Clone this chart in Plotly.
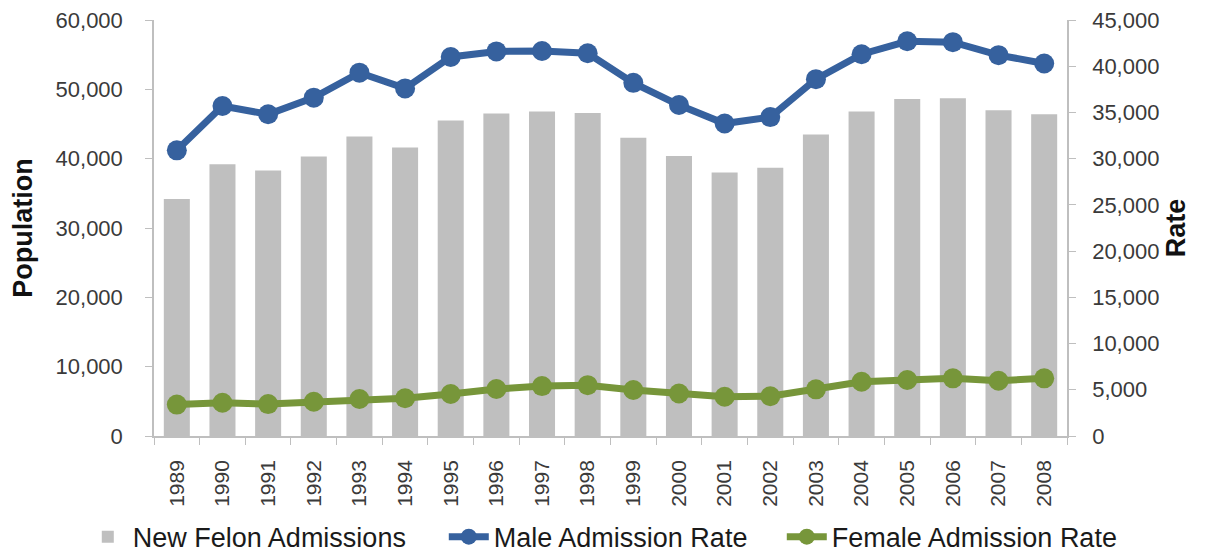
import plotly.graph_objects as go

years = [str(y) for y in range(1989, 2009)]
new_felon_admissions = [34200, 39200, 38300, 40300, 43200, 41600, 45500, 46500, 46800, 46600,
                        43000, 40400, 38000, 38700, 43500, 46800, 48600, 48700, 47000, 46400]
male_rate = [30900, 35700, 34800, 36600, 39300, 37600, 41000, 41600, 41650, 41400,
             38200, 35800, 33800, 34500, 38600, 41300, 42700, 42600, 41200, 40300]
female_rate = [3400, 3600, 3450, 3700, 4000, 4080, 4540, 5080, 5400, 5500,
               4980, 4600, 4250, 4300, 5050, 5870, 6060, 6240, 5980, 6240]

FONT = "Liberation Sans, Arial, sans-serif"
BLUE = "#36619E"
GREEN = "#77963A"
GRAY = "#BFBFBF"
AXIS = "#BFBFBF"
TXT = "#3A3A3A"

fig = go.Figure()
fig.add_trace(go.Bar(x=years, y=new_felon_admissions, name="New Felon Admissions",
                     marker=dict(color=GRAY, line=dict(width=0)), yaxis="y",
                     legendwidth=306))
fig.add_trace(go.Scatter(x=years, y=male_rate, name="Male Admission Rate", mode="lines+markers",
                         line=dict(color=BLUE, width=7), marker=dict(color=BLUE, size=20),
                         yaxis="y2", legendwidth=283))
fig.add_trace(go.Scatter(x=years, y=female_rate, name="Female Admission Rate", mode="lines+markers",
                         line=dict(color=GREEN, width=7), marker=dict(color=GREEN, size=20),
                         yaxis="y2"))

fig.update_layout(
    width=1197, height=546,
    margin=dict(l=146, r=138, t=12, b=118, autoexpand=False),
    paper_bgcolor="white", plot_bgcolor="white",
    font=dict(family=FONT, color=TXT),
    bargap=0.43,
    showlegend=True,
    legend=dict(orientation="h", x=-0.078, xanchor="left", xref="paper",
                y=-0.243, yanchor="middle", yref="paper",
                font=dict(size=27, color="#1a1a1a"), itemwidth=40,
                tracegroupgap=0, bgcolor="rgba(0,0,0,0)"),
    xaxis=dict(type="category", tickangle=-90, tickfont=dict(size=21, color=TXT),
               showline=True, linecolor=AXIS, linewidth=1.5,
               ticks="outside", ticklen=7, tickcolor=AXIS, tickson="boundaries",
               showgrid=False, zeroline=False, ticklabelstandoff=14,
               range=[-0.5, 19.5]),
    yaxis=dict(range=[0, 60000], dtick=10000, tickformat=",d",
               tickfont=dict(size=22, color=TXT), ticklabeloverflow="allow",
               showline=True, linecolor=AXIS, linewidth=1.5,
               ticks="outside", ticklen=7, tickcolor=AXIS,
               showgrid=False, zeroline=False, ticklabelstandoff=18,
               title=dict(text="<b>Population</b>", font=dict(size=27, color="#111111"), standoff=24)),
    yaxis2=dict(range=[0, 45000], dtick=5000, tickformat=",d", overlaying="y", side="right",
                tickfont=dict(size=22, color=TXT), ticklabeloverflow="allow",
                showline=True, linecolor=AXIS, linewidth=1.5,
                ticks="outside", ticklen=7, tickcolor=AXIS,
                showgrid=False, zeroline=False, ticklabelstandoff=12,
                title=dict(text="<b>Rate</b>", font=dict(size=27, color="#111111"), standoff=8)),
)

fig.write_html("out.html")
